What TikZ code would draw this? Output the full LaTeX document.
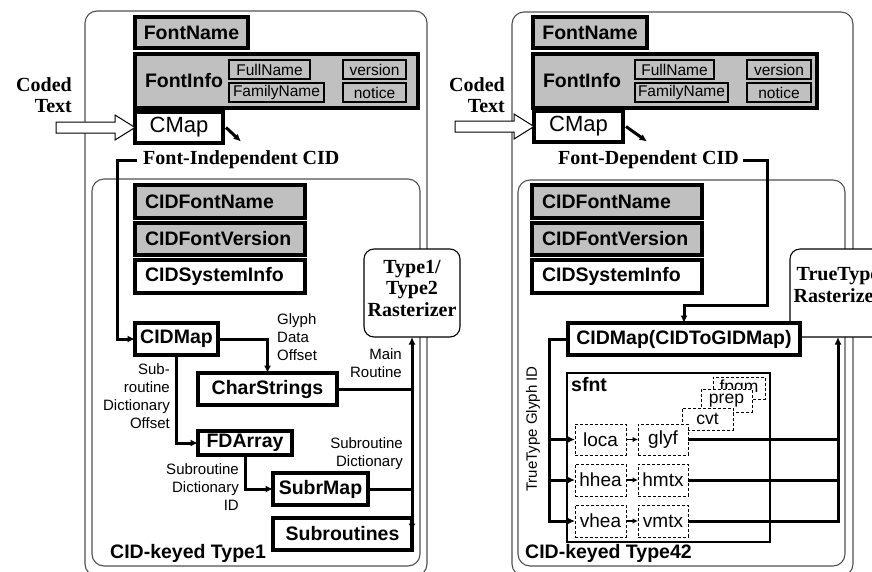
\documentclass[tikz,border=0pt]{standalone}
\usepackage{fontspec}
\setmainfont{Liberation Sans}
\newfontfamily\tnrfam{Liberation Serif}
\usetikzlibrary{arrows.meta,calc}
\definecolor{boxgray}{RGB}{192,192,192}
\definecolor{framegray}{RGB}{80,80,80}
\newcommand\mybold{\fontsize{19.5}{22}\selectfont\bfseries}
\newcommand\mysub{\fontsize{15.5}{18}\selectfont}
\newcommand\mysmall{\fontsize{15}{18}\selectfont}
\newcommand\mycmap{\fontsize{22}{24}\selectfont}
\newcommand\mytab{\fontsize{19}{21}\selectfont}
\newcommand\mytabs{\fontsize{17.5}{20}\selectfont}
\newcommand\myser{\tnrfam\bfseries\fontsize{20}{21.5}\selectfont}
\begin{document}
\begin{tikzpicture}[x=1pt,y=-1pt,
  >={Latex[length=7.5pt,width=7pt]},
  basebox/.style={draw, line width=3.2pt, outer sep=0pt, inner sep=0pt, anchor=north west, font=\mybold},
  gbox/.style={basebox, fill=boxgray},
  wbox/.style={basebox, fill=white},
  lalign/.style={text width=#1, inner xsep=10pt, align=left},
  subbox/.style={draw, line width=1.2pt, fill=boxgray, outer sep=0pt, inner sep=0pt, anchor=north west, font=\mysub, minimum height=19pt},
  dbox/.style={draw, dash pattern=on 3pt off 2pt, line width=0.9pt, fill=white, outer sep=0pt, inner sep=0pt, anchor=north west},
  panelframe/.style={draw=framegray, line width=1.1pt, rounded corners=12pt},
  rast/.style={draw, line width=1.1pt, fill=white, rounded corners=10pt, outer sep=0pt, inner sep=0pt, anchor=north west, minimum width=96pt, minimum height=88pt},
  conn/.style={line width=3pt},
  sconn/.style={line width=1.8pt, -{Latex[length=5.5pt,width=5.5pt]}},
  lab/.style={font=\mysmall, inner sep=0pt},
  sertext/.style={font=\myser, inner sep=0pt},
  openarrow/.style={draw, line width=1pt, fill=white},
]
\useasboundingbox (0,0) rectangle (872,571);

% ================= LEFT PANEL =================
\draw[panelframe] (85,11) rectangle (427,576);
\draw[panelframe] (92,179) rectangle (420,566);

\node[gbox, minimum width=113pt, minimum height=31pt] (fnL) at (135,17) {FontName};
\node[gbox, lalign=263pt, minimum height=54pt] (fiL) at (135,54) {FontInfo};
\node[subbox, minimum width=81pt] (fullL) at (229,60) {FullName};
\node[subbox, minimum width=95pt] (famL) at (229,83) {FamilyName};
\node[subbox, minimum width=63pt] (verL) at (343,60) {version};
\node[subbox, minimum width=63pt] (notL) at (343,83) {notice};

\node[wbox, font=\mycmap, minimum width=88pt, minimum height=31pt] (cmL) at (135,112) {CMap};
\node[sertext, align=right, anchor=east] (ctL) at (72,95) {Coded\\Text};
\draw[openarrow] ($(cmL.west)+(-79,-5.5)$) -- ++(59,0) -- ++(0,-7) -- (cmL.west) -- ++(-20,12.5) -- ++(0,-7) -- ++(-59,0) -- cycle;
\draw[conn,->] (cmL.east) ++(3,0) -- ++(15,14);

\node[sertext, anchor=west] (ficL) at (143,160) {Font-Independent CID};

\node[gbox, lalign=150pt, minimum height=33pt] (cfnL) at (135,185) {CIDFontName};
\node[gbox, lalign=150pt, minimum height=32pt] (cfvL) at (135,223) {CIDFontVersion};
\node[wbox, lalign=150pt, minimum height=33pt] (csiL) at (135,260) {CIDSystemInfo};

\node[rast] (rasL) at (364,249) {};
\node[sertext, align=center] (rasLt) at ($(rasL.center)+(0,-5)$) {Type1/\\Type2\\Rasterizer};

\node[wbox, minimum width=83pt, minimum height=32pt] (cidmL) at (135,323) {CIDMap};
\node[wbox, minimum width=139pt, minimum height=32pt] (csL) at (198,373) {CharStrings};
\node[wbox, minimum width=94pt, minimum height=24pt] (fdaL) at (198,431) {FDArray};
\node[wbox, minimum width=95pt, minimum height=32pt] (smL) at (273,473) {SubrMap};
\node[wbox, minimum width=139pt, minimum height=32pt] (subL) at (273,518) {Subroutines};

\draw[conn,->,shorten <=6pt] (ficL.west) -- (117,160) |- (cidmL.west);
\draw[conn,->] (cidmL.east) -| (csL.north);
\draw[conn,->] (cidmL.south) |- (fdaL.west);
\draw[conn,->] (fdaL.south) |- (smL.west);
\draw[conn] (csL.east) -- (csL.east -| rasL.south);
\draw[conn] (smL.east) -- (smL.east -| rasL.south);
\draw[conn,<->] (rasL.south) -- ($(rasL.south |- subL.east)+(0,-3)$);

\node[lab, align=left, anchor=west] (gdoL) at (277,337.5) {Glyph\\Data\\Offset};
\node[lab, align=right, anchor=east] (mrL) at (402,363) {Main\\Routine};
\node[lab, align=right, anchor=east] (srdoL) at (170,396.5) {Sub-\\routine\\Dictionary\\Offset};
\node[lab, align=right, anchor=east] (sdidL) at (239,487) {Subroutine\\Dictionary\\ID};
\node[lab, align=right, anchor=east] (sdL) at (403,453.5) {Subroutine\\Dictionary};

\node[font=\mybold, anchor=west, inner sep=0pt] (ckL) at (110,553) {CID-keyed Type1};

% ================= RIGHT PANEL =================
\draw[panelframe] (512,12) rectangle (853,576);
\draw[panelframe] (518,180) rectangle (845,566);

\node[gbox, minimum width=114pt, minimum height=31pt] (fnR) at (533,17) {FontName};
\node[gbox, lalign=264pt, minimum height=54pt] (fiR) at (533,54) {FontInfo};
\node[subbox, minimum width=79pt] (fullR) at (635,60) {FullName};
\node[subbox, minimum width=93pt] (famR) at (635,83) {FamilyName};
\node[subbox, minimum width=64pt] (verR) at (747,60) {version};
\node[subbox, minimum width=64pt] (notR) at (747,83) {notice};

\node[wbox, font=\mycmap, minimum width=89pt, minimum height=31pt] (cmR) at (534,111) {CMap};
\node[sertext, align=right, anchor=east] (ctR) at (505,95) {Coded\\Text};
\draw[openarrow] ($(cmR.west)+(-79,-5.5)$) -- ++(59,0) -- ++(0,-7) -- (cmR.west) -- ++(-20,12.5) -- ++(0,-7) -- ++(-59,0) -- cycle;
\draw[conn,->] (cmR.east) ++(3,0) -- ++(21,15);

\node[sertext, anchor=west] (fdcR) at (558,160) {Font-Dependent CID};

\node[gbox, lalign=150pt, minimum height=33pt] (cfnR) at (532,185) {CIDFontName};
\node[gbox, lalign=150pt, minimum height=32pt] (cfvR) at (532,223) {CIDFontVersion};
\node[wbox, lalign=150pt, minimum height=33pt] (csiR) at (532,260) {CIDSystemInfo};

\node[rast] (rasR) at (790,249) {};
\node[sertext, align=center] (rasRt) at ($(rasR.center)+(0,-8)$) {TrueType\\Rasterizer};

\node[wbox, minimum width=232pt, minimum height=32pt] (cidmR) at (568,323) {CIDMap(CIDToGIDMap)};

\draw[conn,->,shorten <=4pt] (fdcR.east) -- (767,160) -- (767,305) -| (cidmR.north);

\node[draw, line width=2.6pt, fill=white, outer sep=0pt, inner sep=0pt, anchor=north west, minimum width=203pt, minimum height=169pt] (sfntR) at (567,373) {};
\node[font=\mybold, anchor=base west, inner sep=0pt] (sfntlab) at (571,391) {sfnt};

\node[dbox, font=\mytabs, minimum width=52pt, minimum height=22pt] (fpgmR) at (713,377) {fpgm};
\node[dbox, font=\mytabs, minimum width=51pt, minimum height=23pt] (prepR) at (701,389) {prep};
\node[dbox, font=\mytabs, minimum width=51pt, minimum height=22pt] (cvtR) at (682,408) {cvt};
\node[dbox, font=\mytab, minimum width=51pt, minimum height=31pt] (locaR) at (575,424) {loca};
\node[dbox, font=\mytab, minimum width=50pt, minimum height=31pt] (glyfR) at (638,424) {glyf};
\node[dbox, font=\mytab, minimum width=51pt, minimum height=32pt] (hheaR) at (575,464) {hhea};
\node[dbox, font=\mytab, minimum width=50pt, minimum height=32pt] (hmtxR) at (638,464) {hmtx};
\node[dbox, font=\mytab, minimum width=51pt, minimum height=32pt] (vheaR) at (575,505) {vhea};
\node[dbox, font=\mytab, minimum width=50pt, minimum height=32pt] (vmtxR) at (638,505) {vmtx};

\coordinate (ttR) at ($(cidmR.west)+(-19,0)$);
\draw[conn,->] (cidmR.west) -- (ttR) |- (vheaR.west);
\draw[conn,->] (ttR |- locaR.west) -- (locaR.west);
\draw[conn,->] (ttR |- hheaR.west) -- (hheaR.west);

\draw[sconn] (locaR.east) -- (glyfR.west);
\draw[sconn] (hheaR.east) -- (hmtxR.west);
\draw[sconn] (vheaR.east) -- (vmtxR.west);

\draw[conn] (glyfR.east) -- (glyfR.east -| rasR.south);
\draw[conn] (hmtxR.east) -- (hmtxR.east -| rasR.south);
\draw[conn,->] (vmtxR.east) -| (rasR.south);

\node[lab, rotate=90] (ttgidR) at (533,429) {TrueType Glyph ID};

\node[font=\mybold, anchor=west, inner sep=0pt] (ckR) at (525,553) {CID-keyed Type42};
\end{tikzpicture}
\end{document}
